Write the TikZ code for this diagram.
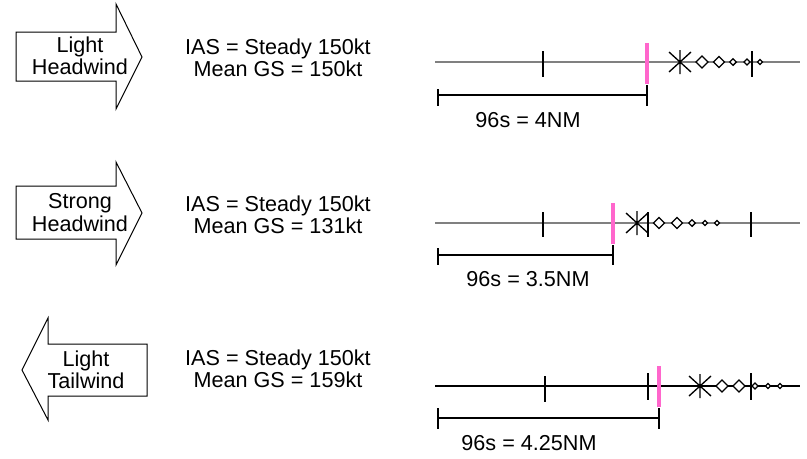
\documentclass[tikz,border=0pt]{standalone}
\usepackage{fontspec}
\setmainfont{Liberation Sans}
\definecolor{pinkc}{RGB}{255,102,204}
\definecolor{linegray}{RGB}{128,128,128}
\newcommand\mydmd[3]{\draw[mk,fill=white] (#1-#3,#2)--(#1,#2-#3)--(#1+#3,#2)--(#1,#2+#3)--cycle;}
\newcommand\myast[2]{\draw[mk] (#1,#2-12)--(#1,#2+12) (#1-11,#2-10)--(#1+11,#2+10) (#1-11,#2+10)--(#1+11,#2-10);}
\begin{document}
\begin{tikzpicture}[x=0.75pt,y=-0.75pt,
  font=\fontsize{16.2}{16.8}\selectfont,
  arrowshape/.style={draw=black, line width=0.75pt, fill=white, line join=miter},
  txt/.style={inner sep=0pt, align=center, text=black},
  baseln/.style={draw=linegray, line width=0.9pt},
  baselnb/.style={draw=black, line width=1.3pt},
  tickm/.style={draw=black, line width=0.9pt},
  tickb/.style={draw=black, line width=1.2pt},
  pinkbar/.style={draw=pinkc, line width=3pt},
  brk/.style={draw=black, line width=1.5pt},
  mk/.style={draw=black, line width=1pt}]
\useasboundingbox[fill=white] (0,0) rectangle (807,458);

% ---------- arrows ----------
\draw[arrowshape] (16,32)--(116,32)--(116,4)--(142,57)--(116,109)--(116,81)--(16,81)--cycle;
\node[txt] (a1) at (80,56) {Light\\Headwind};
\draw[arrowshape] (16,186)--(116,186)--(116,162)--(142,213)--(116,265)--(116,239)--(16,239)--cycle;
\node[txt] (a2) at (80,212.5) {Strong\\Headwind};
\draw[arrowshape] (147,344)--(48,344)--(48,318)--(22,370)--(48,420)--(48,396)--(147,396)--cycle;
\node[txt] (a3) at (86,369.5) {Light\\Tailwind};

% ---------- middle texts ----------
\node[txt] (m1) at (278,57.5) {IAS = Steady 150kt\\Mean GS = 150kt};
\node[txt] (m2) at (278,215) {IAS = Steady 150kt\\Mean GS = 131kt};
\node[txt] (m3) at (278,369) {IAS = Steady 150kt\\Mean GS = 159kt};

% ---------- panel 1 ----------
\draw[baseln] (435,62)--(800,62);
\draw[tickm] (543,51)--(543,77) (752,51)--(752,77);
\myast{680}{62}
\mydmd{702}{62}{6}
\mydmd{719}{62}{5.5}
\mydmd{733}{62}{3.3}
\mydmd{747}{62}{3}
\mydmd{760}{62}{2.5}
\draw[brk] (438,95)--(647,95);
\draw[tickb] (438,89)--(438,106) (647,85)--(647,106);
\draw[pinkbar] (647,43)--(647,84);
\node[txt] (t1) at (528,120) {96s = 4NM};

% ---------- panel 2 ----------
\draw[baseln] (435,223)--(800,223);
\draw[tickm] (543,212)--(543,237) (648,212)--(648,237) (751,212)--(751,237);
\myast{637}{223}
\mydmd{659}{223}{5.5}
\mydmd{677}{223}{5.5}
\mydmd{692}{223}{3.3}
\mydmd{705}{223}{2.5}
\mydmd{717}{223}{2.5}
\draw[brk] (438,255)--(613,255);
\draw[tickb] (438,248)--(438,265) (613,245)--(613,265);
\draw[pinkbar] (613,203)--(613,244);
\node[txt] (t2) at (528,279) {96s = 3.5NM};

% ---------- panel 3 ----------
\draw[baselnb] (435,386)--(800,386);
\draw[tickb] (545,376)--(545,402);
\draw[tickm] (648,373)--(648,400) (751,373)--(751,400);
\myast{700}{386}
\mydmd{722}{386}{6}
\mydmd{739}{386}{6}
\mydmd{755}{386}{3}
\mydmd{768}{386}{2.5}
\mydmd{780}{386}{2.5}
\draw[brk] (438,418)--(659,418);
\draw[tickb] (438,408)--(438,429) (659,408)--(659,429);
\draw[pinkbar] (659,366)--(659,407);
\node[txt] (t3) at (529,443) {96s = 4.25NM};
\end{tikzpicture}
\end{document}
